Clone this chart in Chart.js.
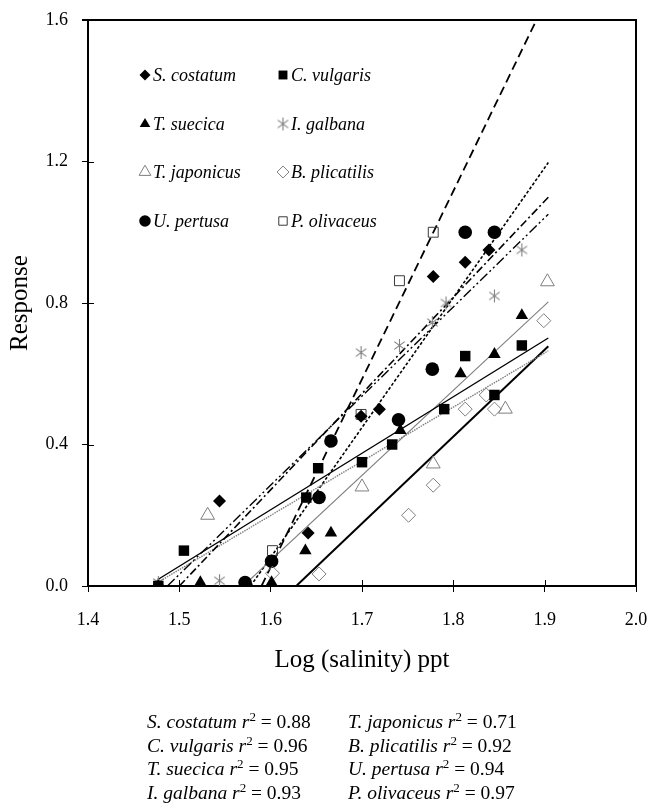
<!DOCTYPE html>
<html>
<head>
<meta charset="utf-8">
<script src="https://cdn.jsdelivr.net/npm/chart.js"></script>
<style>
  body { margin: 0; background: #fff; }
  #wrap { position: relative; width: 649px; height: 803px; }
  .r2 { position: absolute; font: 19.5px "Liberation Serif", "Times New Roman", serif; line-height: 23.5px; white-space: nowrap; color: #000; }
  .r2 sup { font-size: 13px; line-height: 0; vertical-align: 7px; }
</style>
</head>
<body>
<div id="wrap">
  <canvas id="chart" width="649" height="803"></canvas>
  <div class="r2" id="col1" style="left:147px; top:710px;"></div>
  <div class="r2" id="col2" style="left:348px; top:710px;"></div>
</div>
<script>
// Werte (x = log Salinität, y = Response)
const species = ["S. costatum", "C. vulgaris", "T. suecica", "I. galbana",
                 "T. japonicus", "B. plicatilis", "U. pertusa", "P. olivaceus"];

const scX = [1.477, 1.544, 1.641, 1.699, 1.719, 1.778, 1.813, 1.839];
const scY = [0, 0.24, 0.15, 0.48, 0.50, 0.875, 0.915, 0.95];
const cvX = [1.477, 1.505, 1.639, 1.652, 1.700, 1.733, 1.790, 1.813, 1.845, 1.875];
const cvY = [0, 0.10, 0.25, 0.333, 0.35, 0.40, 0.50, 0.65, 0.54, 0.68];
const tsX = [1.523, 1.601, 1.638, 1.666, 1.742, 1.808, 1.845, 1.875];
const tsY = [0.01, 0.01, 0.10, 0.15, 0.44, 0.60, 0.655, 0.765];
const igX = [1.477, 1.544, 1.699, 1.741, 1.777, 1.792, 1.845, 1.875];
const igY = [0.01, 0.015, 0.66, 0.68, 0.745, 0.80, 0.82, 0.95];
const tjX = [1.477, 1.531, 1.700, 1.778, 1.857, 1.903];
const tjY = [0, 0.20, 0.28, 0.345, 0.50, 0.86];
const bpX = [1.602, 1.653, 1.751, 1.778, 1.813, 1.836, 1.845, 1.899];
const bpY = [0.036, 0.034, 0.20, 0.285, 0.50, 0.54, 0.50, 0.75];
const upX = [1.572, 1.601, 1.653, 1.666, 1.740, 1.777, 1.813, 1.845];
const upY = [0.01, 0.07, 0.25, 0.41, 0.47, 0.613, 1.0, 1.0];
const poX = [1.602, 1.699, 1.741, 1.778];
const poY = [0.10, 0.485, 0.863, 1.0];

// Trendlinien: Anfangs- und Endpunkte (am Achsenrand abgeschnitten)
const fitX0 = [1.500, 1.477, 1.570, 1.487, 1.477, 1.628, 1.578, 1.590];
const fitY0 = [0, 0.019, 0, 0, 0.011, 0, 0, 0];
const fitX1 = [1.904, 1.904, 1.904, 1.904, 1.904, 1.904, 1.904, 1.891];
const fitY1 = [1.099, 0.701, 0.803, 1.051, 0.665, 0.678, 1.197, 1.6];

const r2Values = ["0.88", "0.96", "0.95", "0.93", "0.71", "0.92", "0.94", "0.97"];

const xTicks = [1.4, 1.5, 1.6, 1.7, 1.8, 1.9, 2.0];
const yTicks = [0.0, 0.4, 0.8, 1.2, 1.6];

const GRAY = "#7f7f7f";
const SERIF = "'Liberation Serif', 'Times New Roman', serif";

// Sternchen-Marker (X mit senkrechtem Strich)
function makeAsterisk(size) {
    const c = document.createElement("canvas");
    c.width = size; c.height = size;
    const g = c.getContext("2d");
    g.strokeStyle = GRAY;
    g.lineWidth = 1.1;
    const m = size / 2, a = size / 2 - 1;
    g.beginPath();
    g.moveTo(m, m - a); g.lineTo(m, m + a);
    g.moveTo(m - a * 0.8, m - a * 0.6); g.lineTo(m + a * 0.8, m + a * 0.6);
    g.moveTo(m + a * 0.8, m - a * 0.6); g.lineTo(m - a * 0.8, m + a * 0.6);
    g.stroke();
    return c;
}
const asterisk = makeAsterisk(15);

const seriesX = [scX, cvX, tsX, igX, tjX, bpX, upX, poX];
const seriesY = [scY, cvY, tsY, igY, tjY, bpY, upY, poY];

// Marker-Stil je Art
const markers = [
    { pointStyle: "rectRot", radius: 6.5, bg: "#000", border: "#000", bw: 0 },
    { pointStyle: "rect", radius: 7.4, bg: "#000", border: "#000", bw: 0 },
    { pointStyle: "triangle", radius: 7.2, bg: "#000", border: "#000", bw: 0 },
    { pointStyle: asterisk, radius: 7, bg: GRAY, border: GRAY, bw: 1 },
    { pointStyle: "triangle", radius: 8, bg: "rgba(0,0,0,0)", border: GRAY, bw: 1 },
    { pointStyle: "rectRot", radius: 7, bg: "rgba(0,0,0,0)", border: GRAY, bw: 1 },
    { pointStyle: "circle", radius: 6.8, bg: "#000", border: "#000", bw: 0 },
    { pointStyle: "rect", radius: 7, bg: "rgba(0,0,0,0)", border: "#3a3a3a", bw: 1 }
];

// Linienstil der Trendlinien
const lineStyles = [
    { color: "#000", width: 1.6, dash: [8, 3, 2, 3] },
    { color: "#000", width: 1.4, dash: [] },
    { color: GRAY, width: 1.1, dash: [] },
    { color: "#000", width: 1.4, dash: [10, 3, 2, 3, 2, 3] },
    { color: GRAY, width: 1.4, dash: [1.5, 1] },
    { color: "#000", width: 2, dash: [] },
    { color: "#000", width: 1.6, dash: [3, 2] },
    { color: "#000", width: 1.8, dash: [9, 5] }
];

const datasets = [];
species.forEach((name, i) => {
    datasets.push({
        label: name + " Trend",
        data: [{ x: fitX0[i], y: fitY0[i] }, { x: fitX1[i], y: fitY1[i] }],
        showLine: true,
        borderColor: lineStyles[i].color,
        borderWidth: lineStyles[i].width,
        borderDash: lineStyles[i].dash,
        pointRadius: 0,
        fill: false,
        order: 10
    });
});
species.forEach((name, i) => {
    const m = markers[i];
    datasets.push({
        label: name,
        data: seriesX[i].map((x, k) => ({ x: x, y: seriesY[i][k] })),
        showLine: false,
        pointStyle: m.pointStyle,
        pointRadius: m.radius,
        pointHoverRadius: m.radius,
        pointBackgroundColor: m.bg,
        pointBorderColor: m.border,
        pointBorderWidth: m.bw,
        order: 1
    });
});

// eigene Legende im Diagramm (2 Spalten)
function drawMarker(ctx, i, x, y) {
    const m = markers[i];
    const r = m.radius * 0.85;
    ctx.save();
    ctx.fillStyle = m.bg;
    ctx.strokeStyle = m.border;
    ctx.lineWidth = 1;
    if (m.pointStyle === asterisk) {
        ctx.drawImage(asterisk, x - 7.5, y - 7.5);
        ctx.restore();
        return;
    }
    ctx.beginPath();
    if (m.pointStyle === "rectRot") {
        ctx.moveTo(x, y - r); ctx.lineTo(x + r, y); ctx.lineTo(x, y + r); ctx.lineTo(x - r, y); ctx.closePath();
    } else if (m.pointStyle === "rect") {
        const s = r * Math.SQRT1_2;
        ctx.rect(x - s, y - s, 2 * s, 2 * s);
    } else if (m.pointStyle === "triangle") {
        ctx.moveTo(x, y - r);
        ctx.lineTo(x + r * 0.866, y + r / 2);
        ctx.lineTo(x - r * 0.866, y + r / 2);
        ctx.closePath();
    } else {
        ctx.arc(x, y, r, 0, Math.PI * 2);
    }
    if (m.bw === 0) ctx.fill(); else ctx.stroke();
    ctx.restore();
}

const legendPlugin = {
    id: "innerLegend",
    afterDraw(chart) {
        const ctx = chart.ctx;
        const colX = [145, 283];
        const rowY = [75, 124, 172, 221];
        ctx.save();
        ctx.font = "italic 18px " + SERIF;
        ctx.fillStyle = "#000";
        ctx.textBaseline = "middle";
        species.forEach((name, i) => {
            const x = colX[i % 2];
            const y = rowY[Math.floor(i / 2)];
            drawMarker(ctx, i, x, y);
            ctx.fillText(name, x + 8, y + 1);
        });
        ctx.restore();
    }
};

// Rahmen oben/rechts und Tickstriche nach innen
const framePlugin = {
    id: "frame",
    afterDraw(chart) {
        const { ctx, chartArea: a, scales } = chart;
        ctx.save();
        ctx.strokeStyle = "#000";
        ctx.lineWidth = 2;
        ctx.beginPath();
        ctx.moveTo(a.left - 6, a.top); ctx.lineTo(a.right, a.top); ctx.lineTo(a.right, a.bottom);
        ctx.stroke();
        ctx.lineWidth = 1;
        ctx.beginPath();
        xTicks.forEach(v => {
            const px = Math.round(scales.x.getPixelForValue(v)) + 0.5;
            ctx.moveTo(px, a.bottom); ctx.lineTo(px, a.bottom - 6);
        });
        yTicks.forEach(v => {
            const py = Math.round(scales.y.getPixelForValue(v)) + 0.5;
            ctx.moveTo(a.left, py); ctx.lineTo(a.left + 6, py);
        });
        ctx.stroke();
        ctx.restore();
    }
};

Chart.defaults.font.family = SERIF;
Chart.defaults.color = "#000";

new Chart(document.getElementById("chart"), {
    type: "scatter",
    data: { datasets: datasets },
    options: {
        responsive: false,
        animation: false,
        events: [],
        layout: { padding: { left: 4, top: 20, right: 13, bottom: 117 } },
        plugins: { legend: { display: false }, tooltip: { enabled: false } },
        scales: {
            x: {
                type: "linear",
                min: 1.4, max: 2.0,
                afterBuildTicks: s => { s.ticks = xTicks.map(v => ({ value: v })); },
                afterFit: s => { s.height = 100; s.paddingLeft = 0; s.paddingRight = 0; },
                ticks: { font: { size: 18 }, padding: 17, callback: v => v.toFixed(1) },
                grid: { drawOnChartArea: false, drawTicks: true, tickLength: 6, color: "#000", lineWidth: 1 },
                border: { display: true, color: "#000", width: 2 },
                title: { display: true, text: "Log (salinity) ppt", font: { size: 25 }, padding: { top: 0, bottom: 11 } }
            },
            y: {
                type: "linear",
                min: 0, max: 1.6,
                afterBuildTicks: s => { s.ticks = yTicks.map(v => ({ value: v })); },
                afterFit: s => { s.width = 84; s.paddingTop = 0; s.paddingBottom = 0; },
                ticks: { font: { size: 18 }, padding: 14, callback: v => v.toFixed(1) },
                grid: { drawOnChartArea: false, drawTicks: true, tickLength: 6, color: "#000", lineWidth: 1 },
                border: { display: true, color: "#000", width: 2 },
                title: { display: true, text: "Response", font: { size: 25 }, padding: { top: 1, bottom: 0 } }
            }
        }
    },
    plugins: [legendPlugin, framePlugin]
});

// r²-Tabelle unter dem Diagramm
function r2Line(i) {
    return "<i>" + species[i] + " r</i><sup>2</sup> = " + r2Values[i];
}
document.getElementById("col1").innerHTML = [0, 1, 2, 3].map(r2Line).join("<br>");
document.getElementById("col2").innerHTML = [4, 5, 6, 7].map(r2Line).join("<br>");
</script>
</body>
</html>
